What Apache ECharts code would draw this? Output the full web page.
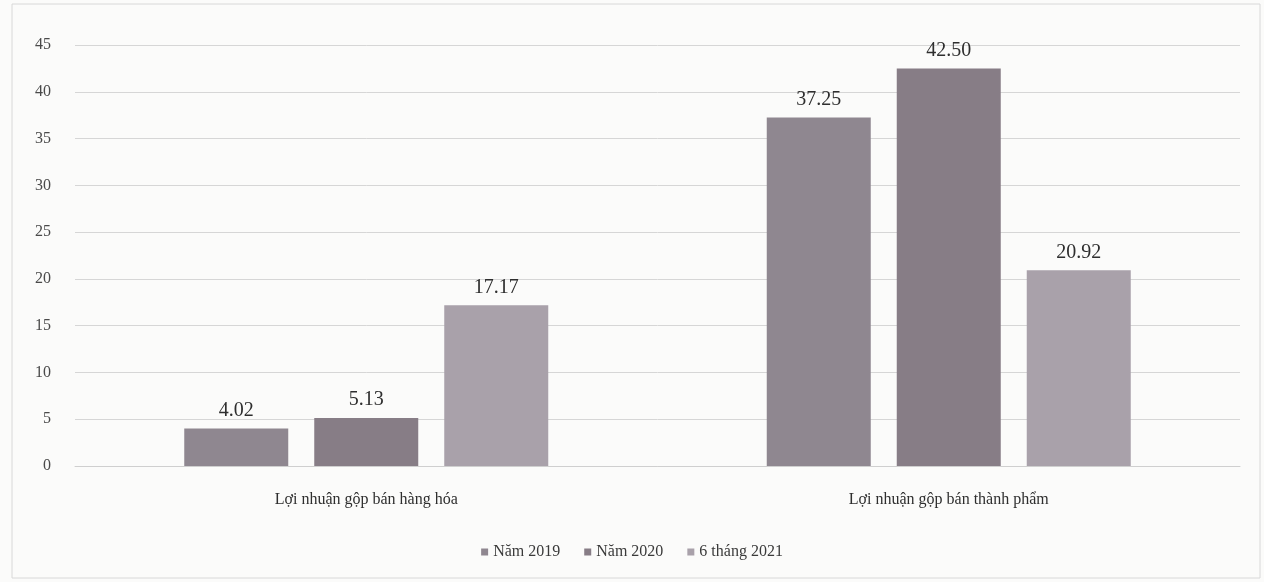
<!DOCTYPE html>
<html><head><meta charset="utf-8">
<script src="https://cdn.jsdelivr.net/npm/echarts@6/dist/echarts.min.js"></script>
<style>html,body{margin:0;padding:0;background:#fbfbfa;}#c{width:1264px;height:582px;}</style>
</head><body><div id="c"></div>
<script>
const categories = ["Lợi nhuận gộp bán hàng hóa", "Lợi nhuận gộp bán thành phẩm"];
const seriesNames = ["Năm 2019", "Năm 2020", "6 tháng 2021"];
const v2019 = [4.02, 37.25];
const v2020 = [5.13, 42.50];
const v2021 = [17.17, 20.92];
const yTicks = [0, 5, 10, 15, 20, 25, 30, 35, 40, 45];

const colors = ["#8f8790", "#877d86", "#a9a1aa"];
const font = "'Liberation Serif', 'DejaVu Serif', serif";
const vals = [v2019, v2020, v2021];

const chart = echarts.init(document.getElementById('c'));
chart.setOption({
  backgroundColor: '#fbfbfa',
  animation: false,
  graphic: [{type:'rect', shape:{x:12, y:4, width:1248, height:574}, style:{fill:'none', stroke:'#d8d8d8', lineWidth:1}}],
  legend: {
    bottom: 17, left: 'center', itemWidth: 7, itemHeight: 7, itemGap: 24,
    icon: 'rect',
    textStyle: {fontFamily: font, fontSize: 16, color: '#3a3a3a'},
    data: seriesNames
  },
  grid: {left: 75, right: 24, top: 45, bottom: 116},
  xAxis: {
    type: 'category', data: categories,
    axisLine: {show: true, lineStyle: {color: '#cfcfcf'}},
    axisTick: {show: false},
    axisLabel: {fontFamily: font, fontSize: 16, color: '#2e2e2e', margin: 26}
  },
  yAxis: {
    type: 'value', min: yTicks[0], max: yTicks[yTicks.length-1], interval: 5,
    axisLine: {show: false}, axisTick: {show: false},
    axisLabel: {fontFamily: font, fontSize: 16, color: '#4a4a4a', margin: 24},
    splitLine: {lineStyle: {color: '#d6d6d6'}}
  },
  series: seriesNames.map((n, i) => ({
    name: n, type: 'bar', data: vals[i], barWidth: 104, barGap: '25%',
    itemStyle: {color: colors[i]},
    label: {show: true, position: 'top', distance: 8, fontFamily: font, fontSize: 20, color: '#2e2e2e',
      formatter: p => p.value.toFixed(2)}
  }))
});
</script></body></html>
